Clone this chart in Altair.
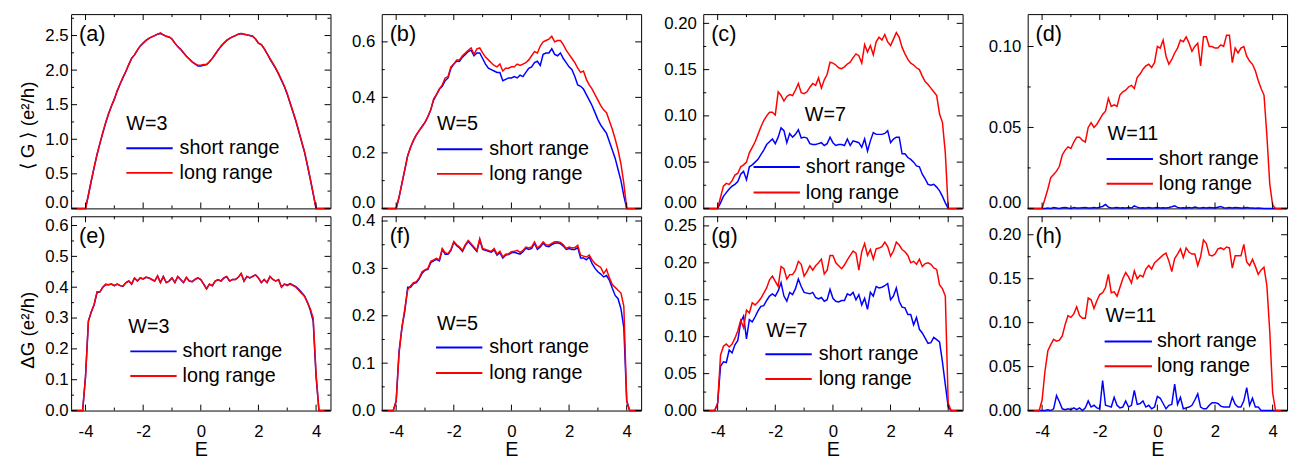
import altair as alt
import pandas as pd

# ---------------- data ----------------
E = [round(-4.5 + 0.1 * i, 1) for i in range(91)]
X_MAJOR = [-4, -2, 0, 2, 4]
X_MINOR = [-3, -1, 1, 3]

A_LONG = [0, 0, 0, 0, 0, 0, 0.20, 0.40, 0.60, 0.78,
          0.94, 1.10, 1.24, 1.37, 1.48, 1.58, 1.70, 1.80, 1.90, 1.98,
          2.08, 2.17, 2.22, 2.29, 2.35, 2.39, 2.43, 2.46, 2.48, 2.50,
          2.52, 2.54, 2.51, 2.49, 2.48, 2.45, 2.39, 2.34, 2.30, 2.25,
          2.20, 2.16, 2.12, 2.09, 2.07, 2.07, 2.08, 2.08, 2.12, 2.17,
          2.23, 2.29, 2.35, 2.39, 2.43, 2.46, 2.48, 2.50, 2.52, 2.53,
          2.52, 2.51, 2.50, 2.49, 2.45, 2.39, 2.37, 2.31, 2.24, 2.17,
          2.10, 2.03, 1.95, 1.86, 1.77, 1.66, 1.53, 1.40, 1.27, 1.12,
          0.97, 0.82, 0.63, 0.43, 0.22, 0, 0, 0, 0, 0,
          0]
A_SHORT = [0, 0, 0, 0, 0, 0, 0.19, 0.40, 0.59, 0.78,
           0.94, 1.09, 1.24, 1.37, 1.48, 1.58, 1.70, 1.80, 1.89, 1.98,
           2.08, 2.17, 2.22, 2.29, 2.35, 2.39, 2.43, 2.46, 2.48, 2.50,
           2.52, 2.53, 2.51, 2.49, 2.48, 2.45, 2.39, 2.34, 2.30, 2.25,
           2.20, 2.16, 2.12, 2.09, 2.06, 2.06, 2.07, 2.08, 2.12, 2.17,
           2.23, 2.29, 2.34, 2.39, 2.43, 2.46, 2.48, 2.50, 2.52, 2.53,
           2.52, 2.51, 2.50, 2.49, 2.45, 2.39, 2.37, 2.31, 2.24, 2.16,
           2.09, 2.02, 1.94, 1.85, 1.76, 1.65, 1.52, 1.39, 1.26, 1.11,
           0.96, 0.81, 0.62, 0.42, 0.21, 0, 0, 0, 0, 0,
           0]

B_LONG = [0, 0, 0, 0, 0, 0, 0.04, 0.09, 0.14, 0.19,
          0.22, 0.245, 0.265, 0.28, 0.295, 0.31, 0.33, 0.355, 0.395, 0.41,
          0.43, 0.445, 0.47, 0.475, 0.51, 0.52, 0.535, 0.535, 0.55, 0.56,
          0.57, 0.578, 0.555, 0.575, 0.578, 0.56, 0.545, 0.535, 0.525, 0.515,
          0.51, 0.52, 0.495, 0.505, 0.505, 0.51, 0.51, 0.52, 0.515, 0.52,
          0.525, 0.535, 0.55, 0.565, 0.56, 0.585, 0.60, 0.605, 0.61, 0.62,
          0.60, 0.605, 0.605, 0.59, 0.57, 0.555, 0.54, 0.525, 0.505, 0.49,
          0.495, 0.465, 0.445, 0.43, 0.41, 0.39, 0.37, 0.355, 0.345, 0.315,
          0.285, 0.25, 0.21, 0.16, 0.09, 0, 0, 0, 0, 0,
          0]
B_SHORT = [0, 0, 0, 0, 0, 0, 0.04, 0.09, 0.14, 0.19,
           0.22, 0.245, 0.265, 0.28, 0.295, 0.31, 0.33, 0.355, 0.39, 0.41,
           0.43, 0.44, 0.46, 0.47, 0.505, 0.52, 0.53, 0.53, 0.545, 0.555,
           0.565, 0.57, 0.55, 0.56, 0.56, 0.54, 0.52, 0.505, 0.50, 0.495,
           0.49, 0.49, 0.46, 0.465, 0.47, 0.47, 0.475, 0.47, 0.48, 0.475,
           0.49, 0.505, 0.51, 0.525, 0.53, 0.515, 0.555, 0.56, 0.56, 0.575,
           0.555, 0.55, 0.56, 0.54, 0.525, 0.51, 0.50, 0.475, 0.445, 0.44,
           0.43, 0.41, 0.39, 0.37, 0.345, 0.32, 0.30, 0.285, 0.27, 0.24,
           0.21, 0.18, 0.14, 0.10, 0.045, 0, 0, 0, 0, 0,
           0]

C_LONG = [0, 0, 0, 0, 0, 0, 0.012, 0.024, 0.027, 0.026,
          0.030, 0.036, 0.038, 0.045, 0.047, 0.050, 0.060, 0.066, 0.072, 0.080,
          0.088, 0.095, 0.100, 0.104, 0.104, 0.101, 0.126, 0.122, 0.116, 0.121,
          0.123, 0.122, 0.128, 0.135, 0.125, 0.124, 0.126, 0.131, 0.135, 0.133,
          0.141, 0.130, 0.139, 0.145, 0.158, 0.157, 0.155, 0.152, 0.151, 0.153,
          0.156, 0.158, 0.163, 0.167, 0.165, 0.157, 0.177, 0.169, 0.176, 0.166,
          0.180, 0.185, 0.182, 0.188, 0.180, 0.176, 0.183, 0.190, 0.185, 0.174,
          0.167, 0.161, 0.157, 0.155, 0.152, 0.150, 0.143, 0.137, 0.134, 0.130,
          0.126, 0.122, 0.102, 0.093, 0.060, 0, 0, 0, 0, 0,
          0]
C_SHORT = [0, 0, 0, 0, 0, 0, 0.006, 0.013, 0.017, 0.021,
           0.024, 0.026, 0.029, 0.037, 0.040, 0.031, 0.045, 0.047, 0.050, 0.053,
           0.058, 0.063, 0.069, 0.072, 0.075, 0.070, 0.077, 0.087, 0.084, 0.071,
           0.081, 0.077, 0.080, 0.085, 0.076, 0.077, 0.076, 0.070, 0.069, 0.069,
           0.070, 0.071, 0.068, 0.070, 0.077, 0.071, 0.068, 0.069, 0.069, 0.068,
           0.075, 0.068, 0.073, 0.072, 0.071, 0.066, 0.075, 0.062, 0.073, 0.082,
           0.080, 0.080, 0.080, 0.081, 0.084, 0.071, 0.075, 0.077, 0.077, 0.059,
           0.059, 0.055, 0.053, 0.050, 0.046, 0.045, 0.037, 0.032, 0.026, 0.025,
           0.026, 0.023, 0.019, 0.013, 0.006, 0, 0, 0, 0, 0,
           0]

D_LONG = [0, 0, 0, 0, 0, 0, 0.006, 0.012, 0.019, 0.021,
          0.023, 0.026, 0.033, 0.036, 0.038, 0.037, 0.041, 0.044, 0.044, 0.042,
          0.041, 0.050, 0.053, 0.050, 0.052, 0.055, 0.058, 0.060, 0.068, 0.063,
          0.064, 0.063, 0.070, 0.072, 0.073, 0.075, 0.076, 0.074, 0.081, 0.083,
          0.086, 0.088, 0.089, 0.087, 0.090, 0.100, 0.099, 0.104, 0.094, 0.089,
          0.092, 0.096, 0.099, 0.104, 0.103, 0.106, 0.102, 0.097, 0.100, 0.102,
          0.088, 0.106, 0.106, 0.100, 0.100, 0.099, 0.099, 0.101, 0.100, 0.107,
          0.107, 0.090, 0.099, 0.096, 0.099, 0.100, 0.094, 0.091, 0.089, 0.085,
          0.079, 0.074, 0.070, 0.045, 0.015, 0.002, 0, 0, 0, 0,
          0]
D_SHORT = [0, 0, 0, 0, 0, 0, 0, 0.0003, 0, 0.0005,
           0.0003, 0, 0.0004, 0.0006, 0.0002, 0, 0.0005, 0.0003, 0.0002, 0.0004,
           0.0006, 0.0003, 0.0002, 0.0005, 0.0003, 0.0008, 0.0012, 0.0025, 0.0008, 0.0003,
           0.0004, 0.0006, 0.0002, 0.0004, 0.0003, 0.0005, 0.0002, 0.0015, 0.0008, 0.0003,
           0.0004, 0.0002, 0.0005, 0.0003, 0.0004, 0.0006, 0.0002, 0.0004, 0.0003, 0.0005,
           0.0010, 0.0016, 0.0006, 0.0003, 0.0004, 0.0002, 0.0005, 0.0003, 0.0008, 0.0004,
           0.0002, 0.0005, 0.0003, 0.0006, 0.0004, 0.0002, 0.0007, 0.0012, 0.0004, 0.0002,
           0.0005, 0.0003, 0.0006, 0.0004, 0.0002, 0.0003, 0.0005, 0.0002, 0.0003, 0.0001,
           0.0002, 0.0001, 0, 0, 0, 0, 0, 0, 0, 0,
           0]

E_LONG = [0, 0, 0, 0, 0, 0.11, 0.29, 0.32, 0.345, 0.385,
          0.385, 0.40, 0.41, 0.408, 0.41, 0.405, 0.41, 0.405, 0.403, 0.415,
          0.42, 0.41, 0.43, 0.42, 0.43, 0.427, 0.433, 0.43, 0.425, 0.42,
          0.437, 0.415, 0.435, 0.415, 0.42, 0.43, 0.415, 0.435, 0.425, 0.415,
          0.432, 0.42, 0.418, 0.425, 0.43, 0.425, 0.41, 0.395, 0.41, 0.405,
          0.42, 0.425, 0.42, 0.43, 0.435, 0.42, 0.425, 0.425, 0.432, 0.445,
          0.42, 0.435, 0.43, 0.435, 0.44, 0.43, 0.415, 0.425, 0.415, 0.435,
          0.425, 0.42, 0.425, 0.40, 0.41, 0.405, 0.41, 0.405, 0.40, 0.39,
          0.38, 0.37, 0.35, 0.33, 0.30, 0.12, 0, 0, 0, 0,
          0]
E_SHORT = [0, 0, 0, 0, 0, 0.11, 0.29, 0.32, 0.343, 0.383,
           0.385, 0.40, 0.408, 0.408, 0.41, 0.405, 0.41, 0.405, 0.403, 0.414,
           0.42, 0.41, 0.43, 0.42, 0.43, 0.427, 0.432, 0.43, 0.425, 0.42,
           0.436, 0.415, 0.435, 0.415, 0.42, 0.43, 0.415, 0.434, 0.425, 0.415,
           0.431, 0.42, 0.418, 0.425, 0.43, 0.425, 0.41, 0.395, 0.41, 0.405,
           0.42, 0.424, 0.42, 0.43, 0.434, 0.42, 0.425, 0.425, 0.432, 0.444,
           0.42, 0.435, 0.43, 0.435, 0.44, 0.43, 0.415, 0.425, 0.415, 0.434,
           0.425, 0.42, 0.424, 0.40, 0.41, 0.407, 0.412, 0.407, 0.402, 0.393,
           0.383, 0.372, 0.352, 0.325, 0.29, 0.11, 0, 0, 0, 0,
           0]

F_LONG = [0, 0, 0, 0, 0, 0.02, 0.12, 0.175, 0.215, 0.255,
          0.263, 0.27, 0.272, 0.28, 0.293, 0.297, 0.30, 0.315, 0.318, 0.321,
          0.318, 0.342, 0.333, 0.331, 0.34, 0.357, 0.35, 0.345, 0.338, 0.35,
          0.359, 0.352, 0.345, 0.338, 0.363, 0.342, 0.34, 0.338, 0.336, 0.342,
          0.33, 0.336, 0.324, 0.33, 0.331, 0.335, 0.336, 0.338, 0.334, 0.338,
          0.345, 0.343, 0.345, 0.356, 0.343, 0.348, 0.356, 0.35, 0.349, 0.353,
          0.356, 0.356, 0.355, 0.35, 0.342, 0.345, 0.343, 0.344, 0.349, 0.328,
          0.326, 0.324, 0.328, 0.318, 0.31, 0.306, 0.302, 0.289, 0.298, 0.28,
          0.266, 0.26, 0.254, 0.248, 0.22, 0.02, 0, 0, 0, 0,
          0]
F_SHORT = [0, 0, 0, 0, 0, 0.02, 0.125, 0.175, 0.21, 0.26,
           0.26, 0.268, 0.27, 0.278, 0.29, 0.296, 0.298, 0.312, 0.316, 0.319,
           0.316, 0.34, 0.33, 0.33, 0.338, 0.355, 0.348, 0.343, 0.336, 0.348,
           0.357, 0.35, 0.343, 0.336, 0.36, 0.34, 0.338, 0.336, 0.334, 0.339,
           0.328, 0.333, 0.322, 0.328, 0.329, 0.333, 0.334, 0.332, 0.33, 0.335,
           0.343, 0.34, 0.342, 0.353, 0.34, 0.345, 0.353, 0.347, 0.346, 0.35,
           0.353, 0.354, 0.352, 0.347, 0.34, 0.342, 0.34, 0.34, 0.344, 0.322,
           0.322, 0.318, 0.324, 0.31, 0.30, 0.293, 0.288, 0.282, 0.285, 0.275,
           0.258, 0.243, 0.236, 0.215, 0.175, 0.021, 0, 0, 0, 0,
           0]

G_LONG = [0, 0, 0, 0, 0, 0.01, 0.075, 0.087, 0.09, 0.086,
          0.090, 0.098, 0.108, 0.122, 0.112, 0.136, 0.132, 0.146, 0.143, 0.147,
          0.152, 0.159, 0.166, 0.177, 0.182, 0.175, 0.168, 0.195, 0.192, 0.178,
          0.184, 0.184, 0.19, 0.202, 0.198, 0.182, 0.188, 0.196, 0.19, 0.196,
          0.20, 0.205, 0.185, 0.19, 0.21, 0.21, 0.20, 0.196, 0.192, 0.197,
          0.204, 0.21, 0.216, 0.213, 0.19, 0.215, 0.226, 0.21, 0.218, 0.205,
          0.219, 0.22, 0.222, 0.228, 0.222, 0.209, 0.216, 0.228, 0.224, 0.218,
          0.215, 0.21, 0.20, 0.202, 0.198, 0.205, 0.195, 0.199, 0.20, 0.198,
          0.193, 0.191, 0.17, 0.165, 0.155, 0.01, 0, 0, 0, 0,
          0]
G_SHORT = [0, 0, 0, 0, 0, 0.01, 0.06, 0.066, 0.065, 0.082,
           0.078, 0.089, 0.095, 0.12, 0.128, 0.097, 0.123, 0.12, 0.127, 0.135,
           0.141, 0.142, 0.149, 0.155, 0.158, 0.155, 0.162, 0.173, 0.155, 0.148,
           0.16, 0.157, 0.165, 0.178, 0.168, 0.16, 0.159, 0.158, 0.16, 0.153,
           0.151, 0.153, 0.148, 0.15, 0.164, 0.152, 0.148, 0.147, 0.149, 0.149,
           0.158, 0.156, 0.16, 0.15, 0.157, 0.143, 0.152, 0.137, 0.16, 0.155,
           0.168, 0.166, 0.167, 0.169, 0.172, 0.15, 0.155, 0.166, 0.148, 0.14,
           0.139, 0.13, 0.13, 0.116, 0.126, 0.11, 0.105, 0.098, 0.091, 0.092,
           0.099, 0.096, 0.093, 0.066, 0.035, 0.005, 0, 0, 0, 0,
           0]

H_LONG = [0, 0, 0, 0, 0, 0.012, 0.045, 0.068, 0.075, 0.081,
          0.079, 0.08, 0.085, 0.098, 0.108, 0.106, 0.11, 0.118, 0.108, 0.105,
          0.105, 0.128, 0.126, 0.116, 0.125, 0.132, 0.134, 0.14, 0.155, 0.134,
          0.135, 0.13, 0.14, 0.15, 0.157, 0.152, 0.145, 0.159, 0.15, 0.154,
          0.152, 0.161, 0.165, 0.161, 0.168, 0.171, 0.174, 0.177, 0.179, 0.17,
          0.158, 0.173, 0.178, 0.184, 0.174, 0.185, 0.18, 0.178, 0.178, 0.165,
          0.175, 0.194, 0.19, 0.177, 0.176, 0.178, 0.184, 0.185, 0.183, 0.186,
          0.185, 0.162, 0.176, 0.176, 0.176, 0.189, 0.169, 0.165, 0.172, 0.164,
          0.155, 0.16, 0.163, 0.142, 0.09, 0.02, 0, 0, 0, 0,
          0]
H_SHORT = [0, 0, 0, 0, 0, 0, 0, 0.001, 0, 0.002,
           0.017, 0.01, 0.002, 0.001, 0.002, 0.001, 0.003, 0.001, 0.003, 0.0,
           0.003, 0.011, 0.004, 0.006, 0.003, 0.002, 0.034, 0.006, 0.005, 0.004,
           0.015, 0.006, 0.003, 0.004, 0.011, 0.004, 0.006, 0.023, 0.007, 0.008,
           0.011, 0.004, 0.006, 0.002, 0.004, 0.016, 0.014, 0.008, 0.002, 0.006,
           0.007, 0.03, 0.007, 0.015, 0.002, 0.003, 0.004, 0.006, 0.012, 0.019,
           0.004, 0.002, 0.002, 0.006, 0.009, 0.009, 0.008, 0.005, 0.004, 0.004,
           0.004, 0.015, 0.007, 0.004, 0.004, 0.011, 0.026, 0.006, 0.014, 0.004,
           0.004, 0, 0, 0, 0, 0, 0, 0, 0, 0,
           0]

# ---------------- styling ----------------
FONT = "Liberation Sans"
BLUE = "#0000ff"
RED = "#ff0000"
PW, PH = 263, 197
EXTENTS = [0, 47, 58, 61]
TITLE_TOP = "\u27e8 G \u27e9 (e\u00b2/h)"
TITLE_BOT = "\u0394G  (e\u00b2/h)"

# legend layout: (W x, W baseline, line x1, line x2, short y, long y, text x)
PANELS = [
    dict(tag="(a)", w="W=3", short=A_SHORT, long=A_LONG, ymax=2.81,
         ymaj=[0, 0.5, 1.0, 1.5, 2.0, 2.5], ymin=[0.25, 0.75, 1.25, 1.75, 2.25, 2.75],
         fmt=".1f", row=0, col=0, leg=(56, 118, 56, 103, 136, 161, 110)),
    dict(tag="(b)", w="W=5", short=B_SHORT, long=B_LONG, ymax=0.70,
         ymaj=[0, 0.2, 0.4, 0.6], ymin=[0.1, 0.3, 0.5],
         fmt=".1f", row=0, col=1, leg=(56, 118, 56, 102, 137, 162, 109)),
    dict(tag="(c)", w="W=7", short=C_SHORT, long=C_LONG, ymax=0.21,
         ymaj=[0, 0.05, 0.10, 0.15, 0.20], ymin=[0.025, 0.075, 0.125, 0.175],
         fmt=".2f", row=0, col=2, leg=(103, 108, 51, 98, 155, 181, 104)),
    dict(tag="(d)", w="W=11", short=D_SHORT, long=D_LONG, ymax=0.12,
         ymaj=[0, 0.05, 0.10], ymin=[0.025, 0.075],
         fmt=".2f", row=0, col=3, leg=(81, 128, 80, 127, 147, 172, 133)),
    dict(tag="(e)", w="W=3", short=E_SHORT, long=E_LONG, ymax=0.63,
         ymaj=[0, 0.1, 0.2, 0.3, 0.4, 0.5, 0.6], ymin=[0.05, 0.15, 0.25, 0.35, 0.45, 0.55],
         fmt=".1f", row=1, col=0, leg=(58, 118, 60, 107, 137, 162, 113)),
    dict(tag="(f)", w="W=5", short=F_SHORT, long=F_LONG, ymax=0.41,
         ymaj=[0, 0.1, 0.2, 0.3, 0.4], ymin=[0.05, 0.15, 0.25, 0.35],
         fmt=".1f", row=1, col=1, leg=(56, 115, 55, 102, 133, 159, 109)),
    dict(tag="(g)", w="W=7", short=G_SHORT, long=G_LONG, ymax=0.263,
         ymaj=[0, 0.05, 0.10, 0.15, 0.20, 0.25], ymin=[0.025, 0.075, 0.125, 0.175, 0.225],
         fmt=".2f", row=1, col=2, leg=(64, 122, 63, 110, 140, 165, 117)),
    dict(tag="(h)", w="W=11", short=H_SHORT, long=H_LONG, ymax=0.221,
         ymaj=[0, 0.05, 0.10, 0.15, 0.20], ymin=[0.025, 0.075, 0.125, 0.175],
         fmt=".2f", row=1, col=3, leg=(79, 107, 78, 126, 127, 152, 131)),
]

for p in PANELS:
    assert len(p["short"]) == len(E) and len(p["long"]) == len(E), p["tag"]


def make_panel(p):
    bottom = p["row"] == 1
    col = p["col"]
    df = pd.DataFrame({"E": E, "short": p["short"], "long": p["long"]})
    xs = alt.Scale(domain=[-4.5, 4.5], nice=False, zero=False)
    ys = alt.Scale(domain=[0, p["ymax"]], nice=False, zero=False)

    if bottom:
        xaxis = alt.Axis(values=X_MAJOR, labelExpr="datum.value + ''", title="E",
                         ticks=False, domain=False, grid=False,
                         labelFont=FONT, labelFontSize=17, labelColor="black",
                         labelPadding=13, labelOverlap=False, labelFlush=False,
                         titleFont=FONT, titleFontSize=20, titleFontWeight="normal",
                         titleColor="black", titlePadding=1)
    else:
        xaxis = None

    ykw = dict(values=p["ymaj"], format=p["fmt"], ticks=False, domain=False, grid=False,
               labelFont=FONT, labelFontSize=17, labelColor="black", labelOverlap=False,
               labelPadding=3 if col == 0 else 7, minExtent=EXTENTS[col])
    if bottom:
        ykw.update(labelFlush=False)
    else:
        ykw.update(labelFlush=True, labelFlushOffset=3)
    if col == 0:
        ykw.update(title=TITLE_BOT if bottom else TITLE_TOP, titleX=-34,
                   titleY=115 if bottom else 113, titleAngle=270, titleAlign="center",
                   titleBaseline="bottom", titleFont=FONT, titleFontSize=19,
                   titleFontWeight="normal", titleColor="black")
    else:
        ykw.update(title=None)
    yaxis = alt.Axis(**ykw)

    def X(field):
        return alt.X(field, scale=xs, axis=xaxis)

    def Y(field):
        return alt.Y(field, scale=ys, axis=yaxis)

    blue = alt.Chart(df).mark_line(color=BLUE, strokeWidth=1.5).encode(x=X("E:Q"), y=Y("short:Q"))
    red = alt.Chart(df).mark_line(color=RED, strokeWidth=1.5).encode(x=X("E:Q"), y=Y("long:Q"))

    def xt(vals, y1, y2):
        return alt.Chart(pd.DataFrame({"E": vals})).mark_rule(color="black", strokeWidth=1).encode(
            x=X("E:Q"), y=alt.value(y1), y2=alt.value(y2))

    def yt(vals, x1, x2):
        return alt.Chart(pd.DataFrame({"short": vals})).mark_rule(color="black", strokeWidth=1).encode(
            y=Y("short:Q"), x=alt.value(x1), x2=alt.value(x2))

    def txt(s, x, y, size):
        return alt.Chart(pd.DataFrame({"s": [s]})).mark_text(
            align="left", baseline="alphabetic", font=FONT, fontSize=size, color="black"
        ).encode(text="s:N", x=alt.value(x), y=alt.value(y))

    def seg(x1, x2, y, color):
        return alt.Chart(pd.DataFrame({"k": [0]})).mark_rule(color=color, strokeWidth=2).encode(
            x=alt.value(x1), x2=alt.value(x2), y=alt.value(y))

    wx, wy, lx1, lx2, ly1, ly2, tx = p["leg"]
    layers = [
        blue, red,
        xt(X_MAJOR, PH, PH - 6), xt(X_MINOR, PH, PH - 3),
        xt(X_MAJOR, 0, 6), xt(X_MINOR, 0, 3),
        yt(p["ymaj"], 0, 6), yt(p["ymin"], 0, 3),
        yt(p["ymaj"], PW, PW - 6), yt(p["ymin"], PW, PW - 3),
        txt(p["tag"], 8, 27, 22),
        txt(p["w"], wx, wy, 20),
        seg(lx1, lx2, ly1, BLUE), seg(lx1, lx2, ly2, RED),
        txt("short range", tx, ly1 + 6, 20),
        txt("long range", tx, ly2 + 6, 20),
    ]
    return alt.layer(*layers).properties(width=PW, height=PH)


panels = [make_panel(p) for p in PANELS]
columns = [alt.vconcat(panels[c], panels[c + 4], spacing=8, bounds="flush") for c in range(4)]

chart = alt.hconcat(*columns, spacing=0).properties(
    padding={"left": 10, "top": 2, "right": 0, "bottom": 0}
).configure(font=FONT).configure_view(stroke="black", strokeWidth=1)

chart.save("out.html", embed_options={"renderer": "svg", "actions": False})
